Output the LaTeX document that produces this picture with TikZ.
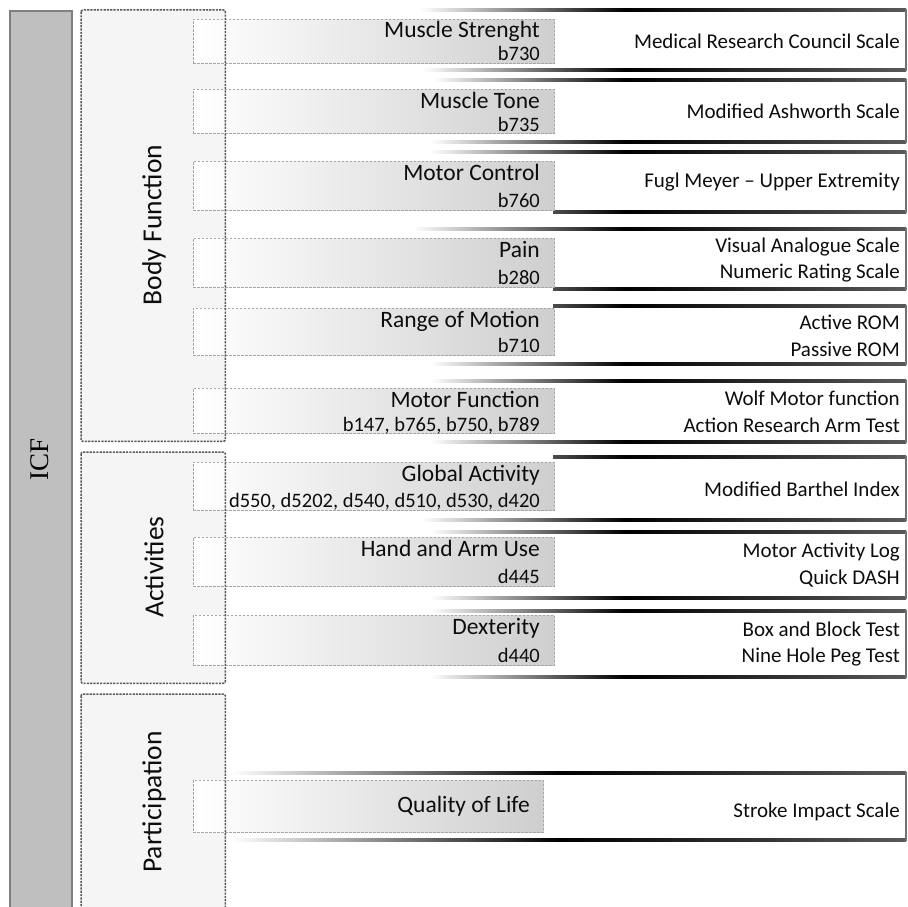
\documentclass[tikz,border=0pt]{standalone}
\usepackage{fontspec}
\setmainfont{Carlito}
\newfontfamily\icfserif{Liberation Serif}
\newcommand{\gline}[4]{%
  \shade[left color=#3, right color=black] (#1,#2-1.3) rectangle (#4,#2+1.3);
  \shade[left color=black, right color=black!65] (#4,#2-1.3) rectangle (906,#2+1.3);}
\newcommand{\rbar}[2]{\fill[black!55] (904.8,#1-1.3) rectangle (907.2,#2+1.3);}
\begin{document}
\begin{tikzpicture}[x=1pt,y=-1pt,
  grp/.style={fill=black!4, inner sep=0pt, anchor=north west},
  grpborder/.style={draw=black!65, line width=1.5pt, dash pattern=on 2.2pt off 1.1pt, rounded corners=2pt},
  itm/.style={draw=black!35, line width=0.8pt, dash pattern=on 2.5pt off 1.5pt, left color=white, right color=black!19, inner sep=0pt, anchor=north west},
  ttl/.style={font=\fontsize{23.5}{26}\selectfont, text=black!95, inner sep=0pt, anchor=base east},
  codetxt/.style={font=\fontsize{20.5}{24}\selectfont, text=black!95, inner sep=0pt, anchor=base east},
  rtxt/.style={font=\fontsize{21}{26.5}\selectfont, text=black!95, align=right, inner sep=0pt, anchor=east},
  glabel/.style={font=\fontsize{27.5}{30}\selectfont, text=black!95, rotate=90, inner sep=0pt}
]
\useasboundingbox (0,0) rectangle (908,907);
\clip (0,0) rectangle (908,907);
% ICF bar
\node[draw=black!50, fill=black!25, line width=2pt, minimum width=62pt, minimum height=920pt, anchor=north west, inner sep=0pt] (icf) at (9,10) {};
\node[font=\icfserif\fontsize{27}{30}\selectfont, rotate=90, inner sep=0pt] (icft) at (40,459) {ICF};
% group fills
\node[grp, minimum width=144pt, minimum height=431pt] (bf) at (81,10) {};
\node[grp, minimum width=144pt, minimum height=231pt] (act) at (81,452) {};
\node[grp, minimum width=144pt, minimum height=231pt] (par) at (81,694) {};
% bracket lines
\gline{420}{10}{white}{625}\gline{423}{70}{white}{625}\rbar{10}{70}
\gline{433}{80}{white}{625}\gline{430}{142}{white}{625}\rbar{80}{142}
\gline{430}{152}{white}{625}\gline{553}{212}{black!70}{625}\rbar{152}{212}
\gline{413}{229}{white}{625}\gline{553}{289}{black!70}{625}\rbar{229}{289}
\gline{553}{306}{black!70}{625}\gline{430}{364}{white}{625}\rbar{306}{364}
\gline{430}{381}{white}{625}\gline{430}{442}{white}{625}\rbar{381}{442}
\gline{553}{457}{black!70}{625}\gline{420}{520}{white}{625}\rbar{457}{520}
\gline{430}{532}{white}{625}\gline{430}{598}{white}{625}\rbar{532}{598}
\gline{430}{611}{white}{625}\gline{430}{677}{white}{625}\rbar{611}{677}
\gline{230}{773}{white}{560}\gline{230}{840}{white}{560}\rbar{773}{840}
% item boxes
\node[itm, minimum width=361pt, minimum height=44pt] (i1) at (193,19) {};
\node[itm, minimum width=361pt, minimum height=44pt] (i2) at (193,89) {};
\node[itm, minimum width=361pt, minimum height=49pt] (i3) at (193,161) {};
\node[itm, minimum width=361pt, minimum height=49pt] (i4) at (193,238) {};
\node[itm, minimum width=361pt, minimum height=47pt] (i5) at (193,308) {};
\node[itm, minimum width=361pt, minimum height=45pt] (i6) at (193,388) {};
\node[itm, minimum width=361pt, minimum height=48pt] (i7) at (193,462) {};
\node[itm, minimum width=361pt, minimum height=49pt] (i8) at (193,537) {};
\node[itm, minimum width=361pt, minimum height=50pt] (i9) at (193,615) {};
\node[itm, minimum width=350pt, minimum height=52pt] (i10) at (193,780) {};
% group borders
\draw[grpborder] (bf.north west) rectangle (bf.south east);
\draw[grpborder] (act.north west) rectangle (act.south east);
\draw[grpborder] (par.north west) rectangle (par.south east);
\node[glabel] (bfl) at (154,225) {Body Function};
\node[glabel] (actl) at (154,567) {Activities};
\node[glabel] (parl) at (154,802) {Participation};
% titles and codes
\node[ttl] (t1) at (540,38) {Muscle Strenght};
\node[codetxt] (c1) at (540,61) {b730};
\node[ttl] (t2) at (540,108) {Muscle Tone};
\node[codetxt] (c2) at (540,131) {b735};
\node[ttl] (t3) at (540,180) {Motor Control};
\node[codetxt] (c3) at (540,207) {b760};
\node[ttl] (t4) at (540,257) {Pain};
\node[codetxt] (c4) at (540,284) {b280};
\node[ttl] (t5) at (540,327) {Range of Motion};
\node[codetxt] (c5) at (540,352) {b710};
\node[ttl] (t6) at (540,407) {Motor Function};
\node[codetxt] (c6) at (540,431) {b147, b765, b750, b789};
\node[ttl] (t7) at (540,481) {Global Activity};
\node[codetxt] (c7) at (540,507) {d550, d5202, d540, d510, d530, d420};
\node[ttl] (t8) at (540,556) {Hand and Arm Use};
\node[codetxt] (c8) at (540,583) {d445};
\node[ttl] (t9) at (540,634) {Dexterity};
\node[codetxt] (c9) at (540,662) {d440};
\node[ttl, anchor=east] (t10) at (530,806) {Quality of Life};
% measures
\node[rtxt] (r1) at (900,41) {Medical Research Council Scale};
\node[rtxt] (r2) at (900,111) {Modified Ashworth Scale};
\node[rtxt] (r3) at (900,182) {Fugl Meyer -- Upper Extremity};
\node[rtxt] (r4) at (900,260) {Visual Analogue Scale\\Numeric Rating Scale};
\node[rtxt] (r5) at (900,336) {Active ROM\\Passive ROM};
\node[rtxt] (r6) at (900,412) {Wolf Motor function\\Action Research Arm Test};
\node[rtxt] (r7) at (900,489) {Modified Barthel Index};
\node[rtxt] (r8) at (900,565) {Motor Activity Log\\Quick DASH};
\node[rtxt] (r9) at (900,644) {Box and Block Test\\Nine Hole Peg Test};
\node[rtxt] (r10) at (900,812) {Stroke Impact Scale};
\end{tikzpicture}
\end{document}
